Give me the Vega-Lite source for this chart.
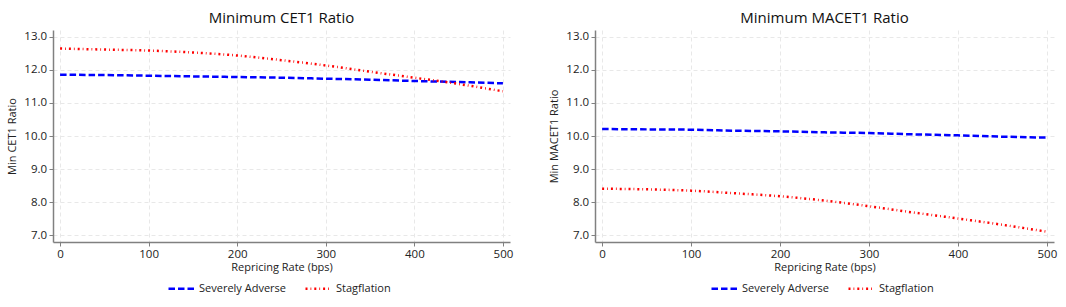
{
  "$schema": "https://vega.github.io/schema/vega-lite/v6.json",
  "padding": {"left": 6, "top": 11, "right": 5, "bottom": 5},
  "spacing": 35,
  "background": "white",
  "config": {
    "font": "Open Sans",
    "view": {"stroke": null},
    "title": {"fontSize": 15, "fontWeight": "normal", "color": "#111", "anchor": "middle", "offset": 4},
    "axis": {
      "labelFont": "Open Sans", "titleFont": "Open Sans",
      "labelFontSize": 11.5, "titleFontSize": 11, "titleFontWeight": "normal",
      "labelColor": "#222", "titleColor": "#222",
      "domainColor": "#808080", "domainWidth": 1.5, "tickColor": "#808080", "tickSize": 4,
      "gridColor": "#e8e8e8", "gridDash": [4, 3], "gridWidth": 1
    },
    "legend": {"labelFont": "Open Sans", "labelFontSize": 11, "labelColor": "#222"}
  },
  "resolve": {"legend": {"color": "independent", "strokeDash": "independent"}},
  "hconcat": [
    {
      "width": 457, "height": 212,
      "title": "Minimum CET1 Ratio",
      "data": {"values": [
        {"bps": 0, "ratio": 11.85, "scenario": "Severely Adverse"},
        {"bps": 50, "ratio": 11.84, "scenario": "Severely Adverse"},
        {"bps": 100, "ratio": 11.82, "scenario": "Severely Adverse"},
        {"bps": 150, "ratio": 11.80, "scenario": "Severely Adverse"},
        {"bps": 200, "ratio": 11.78, "scenario": "Severely Adverse"},
        {"bps": 250, "ratio": 11.76, "scenario": "Severely Adverse"},
        {"bps": 300, "ratio": 11.73, "scenario": "Severely Adverse"},
        {"bps": 350, "ratio": 11.70, "scenario": "Severely Adverse"},
        {"bps": 400, "ratio": 11.66, "scenario": "Severely Adverse"},
        {"bps": 450, "ratio": 11.63, "scenario": "Severely Adverse"},
        {"bps": 500, "ratio": 11.59, "scenario": "Severely Adverse"},
        {"bps": 0, "ratio": 12.64, "scenario": "Stagflation"},
        {"bps": 50, "ratio": 12.61, "scenario": "Stagflation"},
        {"bps": 100, "ratio": 12.58, "scenario": "Stagflation"},
        {"bps": 150, "ratio": 12.52, "scenario": "Stagflation"},
        {"bps": 200, "ratio": 12.43, "scenario": "Stagflation"},
        {"bps": 250, "ratio": 12.29, "scenario": "Stagflation"},
        {"bps": 300, "ratio": 12.13, "scenario": "Stagflation"},
        {"bps": 350, "ratio": 11.94, "scenario": "Stagflation"},
        {"bps": 400, "ratio": 11.76, "scenario": "Stagflation"},
        {"bps": 450, "ratio": 11.57, "scenario": "Stagflation"},
        {"bps": 500, "ratio": 11.35, "scenario": "Stagflation"}
      ]},
      "mark": {"type": "line", "interpolate": "monotone", "strokeWidth": 2.5, "strokeCap": "butt"},
      "encoding": {
        "x": {"field": "bps", "type": "quantitative", "title": "Repricing Rate (bps)",
              "scale": {"domain": [-8, 508], "nice": false, "zero": false},
              "axis": {"values": [0, 100, 200, 300, 400, 500], "titlePadding": 2, "labelPadding": 2}},
        "y": {"field": "ratio", "type": "quantitative", "title": "Min CET1 Ratio",
              "scale": {"domain": [6.8, 13.2], "nice": false, "zero": false},
              "axis": {"values": [7, 8, 9, 10, 11, 12, 13], "format": ".1f", "titlePadding": 6, "labelPadding": 2.4}},
        "color": {"field": "scenario", "type": "nominal",
                  "scale": {"domain": ["Severely Adverse", "Stagflation"], "range": ["#0000ff", "#ff0000"]},
                  "legend": {"title": null, "orient": "none", "legendX": 114, "legendY": 244, "direction": "horizontal",
                             "symbolType": "stroke", "symbolSize": 676, "symbolStrokeWidth": 2.5, "columnPadding": 14, "labelOffset": 3}},
        "strokeDash": {"field": "scenario", "type": "nominal",
                       "scale": {"domain": ["Severely Adverse", "Stagflation"], "range": [[6.5, 3], [2, 3, 0.8, 3]]},
                       "legend": {"title": null, "orient": "none", "legendX": 114, "legendY": 244, "direction": "horizontal",
                                  "symbolType": "stroke", "symbolSize": 676, "symbolStrokeWidth": 2.5, "columnPadding": 14, "labelOffset": 3}}
      }
    },
    {
      "width": 459, "height": 212,
      "title": "Minimum MACET1 Ratio",
      "data": {"values": [
        {"bps": 0, "ratio": 10.21, "scenario": "Severely Adverse"},
        {"bps": 50, "ratio": 10.20, "scenario": "Severely Adverse"},
        {"bps": 100, "ratio": 10.19, "scenario": "Severely Adverse"},
        {"bps": 150, "ratio": 10.16, "scenario": "Severely Adverse"},
        {"bps": 200, "ratio": 10.14, "scenario": "Severely Adverse"},
        {"bps": 250, "ratio": 10.11, "scenario": "Severely Adverse"},
        {"bps": 300, "ratio": 10.09, "scenario": "Severely Adverse"},
        {"bps": 350, "ratio": 10.05, "scenario": "Severely Adverse"},
        {"bps": 400, "ratio": 10.02, "scenario": "Severely Adverse"},
        {"bps": 450, "ratio": 9.98, "scenario": "Severely Adverse"},
        {"bps": 500, "ratio": 9.95, "scenario": "Severely Adverse"},
        {"bps": 0, "ratio": 8.41, "scenario": "Stagflation"},
        {"bps": 50, "ratio": 8.39, "scenario": "Stagflation"},
        {"bps": 100, "ratio": 8.35, "scenario": "Stagflation"},
        {"bps": 150, "ratio": 8.27, "scenario": "Stagflation"},
        {"bps": 200, "ratio": 8.18, "scenario": "Stagflation"},
        {"bps": 250, "ratio": 8.05, "scenario": "Stagflation"},
        {"bps": 300, "ratio": 7.88, "scenario": "Stagflation"},
        {"bps": 350, "ratio": 7.69, "scenario": "Stagflation"},
        {"bps": 400, "ratio": 7.51, "scenario": "Stagflation"},
        {"bps": 450, "ratio": 7.32, "scenario": "Stagflation"},
        {"bps": 500, "ratio": 7.11, "scenario": "Stagflation"}
      ]},
      "mark": {"type": "line", "interpolate": "monotone", "strokeWidth": 2.5, "strokeCap": "butt"},
      "encoding": {
        "x": {"field": "bps", "type": "quantitative", "title": "Repricing Rate (bps)",
              "scale": {"domain": [-8, 508], "nice": false, "zero": false},
              "axis": {"values": [0, 100, 200, 300, 400, 500], "titlePadding": 2, "labelPadding": 2}},
        "y": {"field": "ratio", "type": "quantitative", "title": "Min MACET1 Ratio",
              "scale": {"domain": [6.8, 13.2], "nice": false, "zero": false},
              "axis": {"values": [7, 8, 9, 10, 11, 12, 13], "format": ".1f", "titlePadding": 6, "labelPadding": 2.4}},
        "color": {"field": "scenario", "type": "nominal",
                  "scale": {"domain": ["Severely Adverse", "Stagflation"], "range": ["#0000ff", "#ff0000"]},
                  "legend": {"title": null, "orient": "none", "legendX": 115, "legendY": 244, "direction": "horizontal",
                             "symbolType": "stroke", "symbolSize": 676, "symbolStrokeWidth": 2.5, "columnPadding": 14, "labelOffset": 3}},
        "strokeDash": {"field": "scenario", "type": "nominal",
                       "scale": {"domain": ["Severely Adverse", "Stagflation"], "range": [[6.5, 3], [2, 3, 0.8, 3]]},
                       "legend": {"title": null, "orient": "none", "legendX": 115, "legendY": 244, "direction": "horizontal",
                                  "symbolType": "stroke", "symbolSize": 676, "symbolStrokeWidth": 2.5, "columnPadding": 14, "labelOffset": 3}}
      }
    }
  ]
}
